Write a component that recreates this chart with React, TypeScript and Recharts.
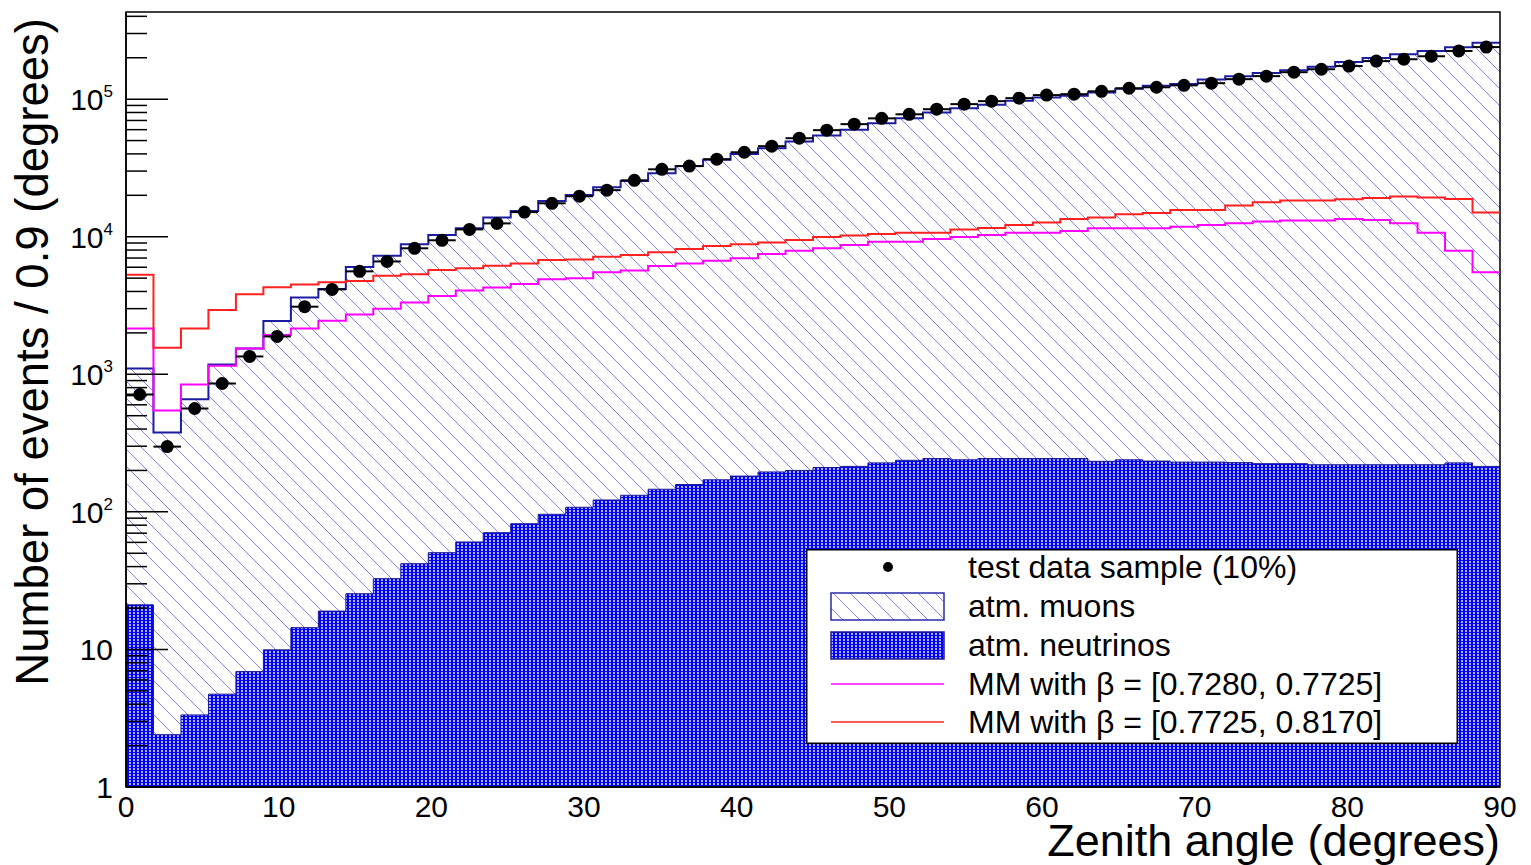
import React from 'react';
import {
  ComposedChart,
  Area,
  Line,
  Scatter,
  ErrorBar,
  XAxis,
  YAxis,
  ReferenceArea,
} from 'recharts';

// 50 bins of 1.8 degrees from 0 to 90
const BIN_WIDTH = 1.8;

const muons = [
  1100, 377, 658, 1180, 1540, 2440, 3620, 4160, 6020, 7280,
  8810, 10300, 11500, 13800, 15400, 18200, 20100, 22900, 25400, 28900,
  32700, 36200, 39900, 44000, 49200, 54400, 59800, 66900, 72700, 80000,
  86000, 90900, 97300, 103000, 106000, 112000, 119000, 125000, 128600, 139000,
  147000, 154600, 162500, 172000, 186000, 199000, 212000, 224000, 238000, 257000,
];

const neutrinos = [
  21.1, 2.4, 3.34, 4.73, 6.9, 9.93, 14.4, 19.0, 25.4, 32.7,
  42, 50.5, 60.4, 70.6, 82, 96, 108, 122, 132, 146,
  158, 171, 182, 195, 200, 210, 214, 227, 237, 244,
  239, 244, 244, 244, 244, 233, 239, 234, 230, 230,
  228, 224, 224, 220, 220, 220, 220, 220, 227, 214,
];

// MM with beta = [0.7280, 0.7725]
const mmLow = [
  2150, 546, 843, 1153, 1540, 1930, 2150, 2450, 2720, 3000,
  3330, 3700, 4070, 4280, 4530, 4900, 5000, 5510, 5670, 6120,
  6400, 6700, 6960, 7480, 7920, 8240, 8710, 9210, 9210, 9620,
  9950, 10300, 10700, 10700, 11000, 11500, 11500, 11500, 11840, 12170,
  12520, 12880, 13100, 13100, 13460, 13240, 12520, 10700, 7920, 5510,
];

// MM with beta = [0.7725, 0.8170]
const mmHigh = [
  5300, 1560, 2150, 2930, 3810, 4300, 4500, 4660, 4760, 5210,
  5330, 5720, 5890, 6160, 6400, 6770, 6830, 7160, 7360, 7700,
  8130, 8550, 8800, 9060, 9460, 9950, 10200, 10470, 10700, 10700,
  11280, 11580, 12170, 12670, 13460, 13770, 14560, 14890, 15650, 15650,
  16840, 17800, 18320, 18320, 18720, 19140, 19590, 19270, 18820, 14970,
];

// test data sample (10%)
const testData = [
  713, 298, 564, 857, 1348, 1884, 3100, 4140, 5600, 6610,
  8240, 9420, 11300, 12500, 15100, 17500, 19700, 21800, 25700, 30900,
  32600, 36600, 41100, 45500, 52000, 59500, 65800, 72500, 77600, 84500,
  92000, 96700, 101700, 107000, 108700, 114000, 120000, 122000, 126000, 130600,
  139700, 147000, 157000, 165000, 174000, 189000, 195000, 205000, 224000, 239000,
];

const xTicks = [0, 10, 20, 30, 40, 50, 60, 70, 80, 90];
const yMajorTicks = [1, 10, 100, 1000, 10000, 100000];
const Y_MAX = 4.3e5;

const legendLabels = [
  'test data sample (10%)',
  'atm. muons',
  'atm. neutrinos',
  'MM with \u03b2 = [0.7280, 0.7725]',
  'MM with \u03b2 = [0.7725, 0.8170]',
];

const W = 1531;
const H = 865;
const PLOT_LEFT = 126;
const PLOT_RIGHT = 1500;
const PLOT_TOP = 12;
const PLOT_BOTTOM = 787;
const FONT = '"Liberation Sans", Arial, sans-serif';

// log ticks: majors + minors 2..9 per decade
const yTicks: number[] = [];
yMajorTicks.forEach((m) => {
  for (let k = 1; k <= 9; k++) {
    const v = m * k;
    if (v <= Y_MAX) yTicks.push(v);
  }
});

// step histogram data at bin edges (last edge repeats last bin)
const histData = muons.map((_, i) => ({
  x: Math.round(i * BIN_WIDTH * 10) / 10,
  muons: muons[i],
  neutrinos: neutrinos[i],
  mmLow: mmLow[i],
  mmHigh: mmHigh[i],
}));
histData.push({ ...histData[histData.length - 1], x: 90 });

const pointData = testData.map((v, i) => ({
  x: (i + 0.5) * BIN_WIDTH,
  y: v,
  ex: BIN_WIDTH / 2,
}));

const YTick = ({ y, payload }: any) => {
  const v = payload.value;
  const exp = Math.round(Math.log10(v));
  const major = yMajorTicks.includes(v);
  return (
    <g>
      <line
        x1={PLOT_LEFT}
        x2={PLOT_LEFT + (major ? 42 : 21)}
        y1={y}
        y2={y}
        stroke="#000"
        strokeWidth={1.5}
      />
      {major && (
        <text x={113} y={y + 11} textAnchor="end" fontSize={30} fontFamily={FONT} fill="#000">
          {exp === 0 ? '1' : exp === 1 ? '10' : (
            <>
              10
              <tspan dy={-13} fontSize={17}>{exp}</tspan>
            </>
          )}
        </text>
      )}
    </g>
  );
};

const XTick = ({ x, payload }: any) => (
  <text x={x} y={PLOT_BOTTOM + 30} textAnchor="middle" fontSize={30} fontFamily={FONT} fill="#000">
    {payload.value}
  </text>
);

const DataPoint = ({ cx, cy }: any) => <circle cx={cx} cy={cy} r={6.5} fill="#000" />;

const Legend = () => {
  const rowY = [18, 57, 96, 135, 173];
  return (
    <svg
      width={652}
      height={195}
      style={{ position: 'absolute', left: 806, top: 549 }}
    >
      <rect x={0.75} y={0.75} width={650.5} height={193.5} fill="#fff" stroke="#000" strokeWidth={1.5} />
      <circle cx={82} cy={rowY[0]} r={5} fill="#000" />
      <rect x={25} y={rowY[1] - 13} width={113} height={27} fill="url(#muonHatch)" stroke="#2a2aa8" strokeWidth={1.5} />
      <rect x={25} y={rowY[2] - 13} width={113} height={27} fill="url(#nuDots)" stroke="#1a1a90" strokeWidth={1.5} />
      <line x1={25} x2={138} y1={rowY[3]} y2={rowY[3]} stroke="#ff00ff" strokeWidth={1.5} />
      <line x1={25} x2={138} y1={rowY[4]} y2={rowY[4]} stroke="#ff2020" strokeWidth={1.5} />
      {legendLabels.map((t, i) => (
        <text key={t} x={162} y={rowY[i] + 11} fontSize={32} fontFamily={FONT} fill="#000">
          {t}
        </text>
      ))}
    </svg>
  );
};

export default function App() {
  return (
    <div style={{ position: 'absolute', left: 0, top: 0, width: W, height: H, background: '#fff' }}>
      <svg width={0} height={0} style={{ position: 'absolute' }}>
        <defs>
          <pattern id="muonHatch" patternUnits="userSpaceOnUse" width={17} height={17}>
            <path d="M0,0 L17,17 M-1,16 L1,18 M16,-1 L18,1" stroke="#8585f0" strokeWidth={1} />
          </pattern>
          <pattern id="nuDots" patternUnits="userSpaceOnUse" width={4} height={3}>
            <rect x={0} y={0} width={4} height={3} fill="#0000ff" />
            <rect x={1} y={0} width={2} height={2} fill="#ffffff" fillOpacity={0.7} />
          </pattern>
        </defs>
      </svg>
      <ComposedChart
        width={W}
        height={H}
        data={histData}
        margin={{ top: PLOT_TOP, right: W - PLOT_RIGHT, bottom: 0, left: 0 }}
      >
        <XAxis
          type="number"
          dataKey="x"
          domain={[0, 90]}
          ticks={xTicks}
          allowDataOverflow
          height={H - PLOT_BOTTOM}
          tickLine={false}
          axisLine={{ stroke: '#000', strokeWidth: 1.5 }}
          tick={<XTick />}
          label={{
            content: () => (
              <text x={PLOT_RIGHT} y={856} textAnchor="end" fontSize={45} fontFamily={FONT} fill="#000">
                Zenith angle (degrees)
              </text>
            ),
          }}
        />
        <YAxis
          type="number"
          scale="log"
          domain={[1, Y_MAX]}
          ticks={yTicks}
          allowDataOverflow
          width={PLOT_LEFT}
          tickLine={false}
          tickSize={0}
          tickMargin={0}
          interval={0}
          axisLine={{ stroke: '#000', strokeWidth: 1.5 }}
          tick={<YTick />}
          label={{
            content: () => (
              <text
                transform="translate(48,18) rotate(-90)"
                x={0}
                y={0}
                textAnchor="end"
                fontSize={45.5}
                fontFamily={FONT}
                fill="#000"
              >
                Number of events / 0.9 (degrees)
              </text>
            ),
          }}
        />
        <Area
          type="stepAfter"
          dataKey="muons"
          baseValue={1}
          fill="url(#muonHatch)"
          fillOpacity={1}
          stroke="#1c1ca0"
          strokeWidth={2}
          dot={false}
          activeDot={false}
          isAnimationActive={false}
        />
        <Area
          type="stepAfter"
          dataKey="neutrinos"
          baseValue={1}
          fill="url(#nuDots)"
          fillOpacity={1}
          stroke="#1a1a90"
          strokeWidth={1}
          dot={false}
          activeDot={false}
          isAnimationActive={false}
        />
        <Line
          type="stepAfter"
          dataKey="mmLow"
          stroke="#ff00ff"
          strokeWidth={2}
          dot={false}
          activeDot={false}
          isAnimationActive={false}
        />
        <Line
          type="stepAfter"
          dataKey="mmHigh"
          stroke="#ff2020"
          strokeWidth={2}
          dot={false}
          activeDot={false}
          isAnimationActive={false}
        />
        <Scatter data={pointData} dataKey="y" shape={<DataPoint />} isAnimationActive={false}>
          <ErrorBar dataKey="ex" direction="x" width={0} stroke="#000" strokeWidth={2} isAnimationActive={false} />
        </Scatter>
        <ReferenceArea
          x1={0}
          x2={90}
          y1={1}
          y2={Y_MAX}
          fill="none"
          fillOpacity={0}
          stroke="#000"
          strokeWidth={1.5}
          ifOverflow="visible"
        />
      </ComposedChart>
      <Legend />
    </div>
  );
}
